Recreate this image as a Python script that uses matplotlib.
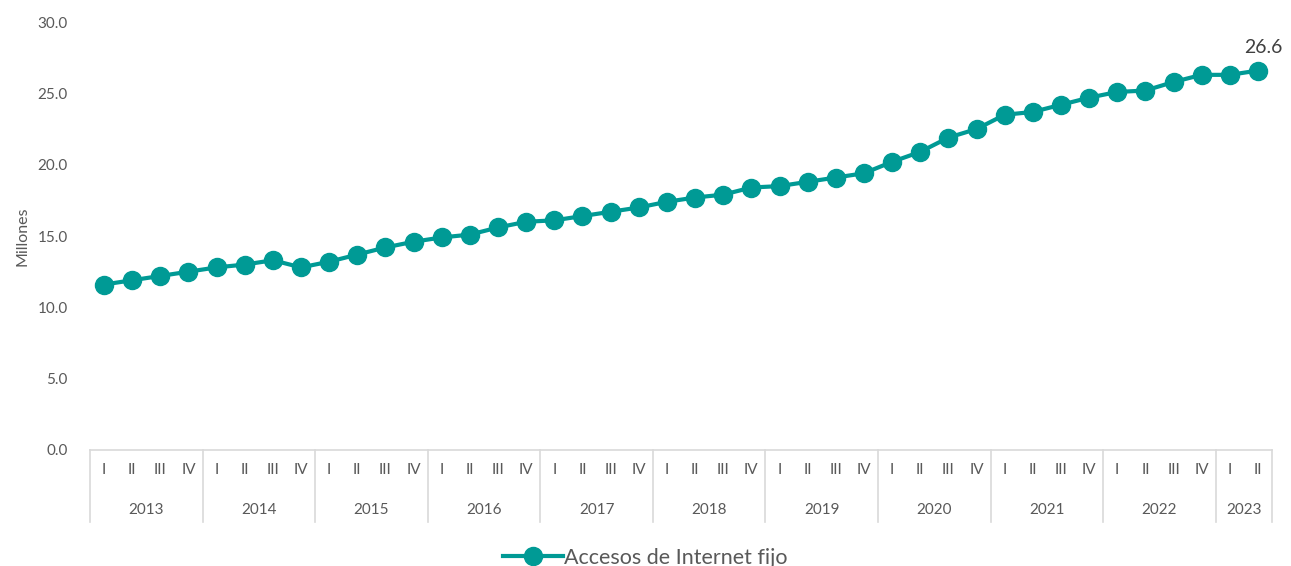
import matplotlib.pyplot as plt
from matplotlib.lines import Line2D

plt.rcParams['font.family'] = ['Lato', 'DejaVu Sans']

years = ['2013', '2014', '2015', '2016', '2017', '2018', '2019', '2020', '2021', '2022', '2023']
quarters_per_year = [4, 4, 4, 4, 4, 4, 4, 4, 4, 4, 2]
quarter_names = ['I', 'II', 'III', 'IV']
accesos = [11.6, 11.9, 12.2, 12.5,
           12.8, 13.0, 13.3, 12.8,
           13.2, 13.7, 14.2, 14.6,
           14.9, 15.1, 15.6, 16.0,
           16.1, 16.4, 16.7, 17.0,
           17.4, 17.7, 17.9, 18.4,
           18.5, 18.8, 19.1, 19.4,
           20.2, 20.9, 21.9, 22.5,
           23.5, 23.7, 24.2, 24.7,
           25.1, 25.2, 25.8, 26.3,
           26.3, 26.6]

color = '#009A95'
gray = '#595959'

fig = plt.figure(figsize=(12.91, 5.66), dpi=100)
ax = fig.add_axes([0.0697, 0.205, 0.9156, 0.756])

x = list(range(len(accesos)))
ax.plot(x, accesos, color=color, lw=3, marker='o', markersize=13)
ax.text(x[-1] + 0.2, accesos[-1] + 1.0, '26.6', fontsize=14, color='#404040',
        ha='center', va='bottom')

ax.set_xlim(-0.5, len(accesos) - 0.5)
ax.set_ylim(0, 30)
ax.set_yticks([0, 5, 10, 15, 20, 25, 30])
ax.set_yticklabels(['%.1f' % v for v in [0, 5, 10, 15, 20, 25, 30]])
ax.tick_params(axis='y', length=0, labelsize=11, labelcolor=gray, pad=16)
ax.set_xticks([])
ax.set_ylabel('Millones', fontsize=11.5, color=gray, labelpad=6)

for s in ['left', 'right', 'top']:
    ax.spines[s].set_visible(False)
ax.spines['bottom'].set_color('#D9D9D9')
ax.spines['bottom'].set_linewidth(1.2)

# two-level category axis
trans = ax.get_xaxis_transform()
pos = 0
bounds = [-0.5]
for yr, n in zip(years, quarters_per_year):
    for q in range(n):
        ax.text(pos + q, -0.047, quarter_names[q], transform=trans, ha='center',
                va='center', fontsize=11, color=gray)
    ax.text(pos + (n - 1) / 2, -0.14, yr, transform=trans, ha='center',
            va='center', fontsize=11, color=gray)
    pos += n
    bounds.append(pos - 0.5)
for b in bounds:
    ax.add_line(Line2D([b, b], [0, -0.168], transform=trans, color='#D9D9D9',
                       lw=1.2, clip_on=False))

handle = Line2D([], [], color=color, lw=3, marker='o', markersize=13)
fig.legend([handle], ['Accesos de Internet fijo'], loc='center',
           bbox_to_anchor=(0.5, 1 - 558 / 566), frameon=False, fontsize=15.5,
           labelcolor=gray, handlelength=2.8, handletextpad=0.05)

fig.savefig('out.png', dpi=100)
